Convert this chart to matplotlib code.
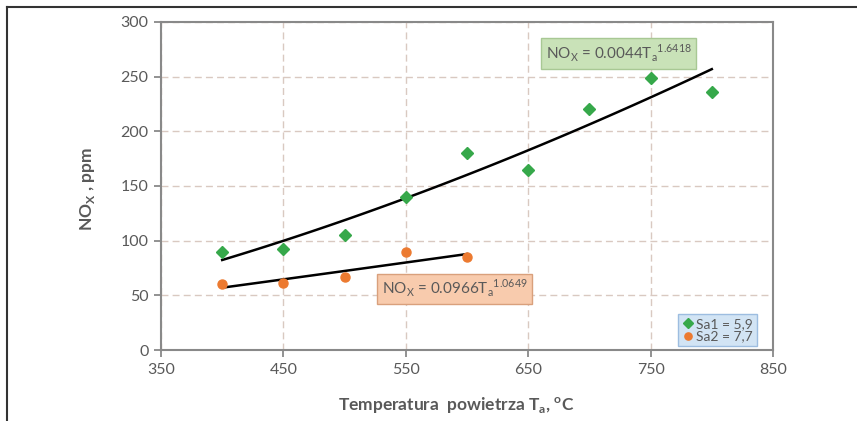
import numpy as np
import matplotlib
matplotlib.use("Agg")
import matplotlib.pyplot as plt
from matplotlib.lines import Line2D

plt.rcParams['font.family'] = ['Lato', 'DejaVu Sans']

# measured data
temp_sa1 = [400, 450, 500, 550, 600, 650, 700, 750, 800]
nox_sa1 = [90, 92, 105, 140, 180, 165, 220, 249, 236]
temp_sa2 = [400, 450, 500, 550, 600]
nox_sa2 = [60, 61, 67, 90, 85]

# power trend coefficients shown on the chart (y = a * T^b)
fit_sa1 = (0.0044, 1.6418)
fit_sa2 = (0.0966, 1.0649)

fig = plt.figure(figsize=(8.57, 4.21), dpi=100)
ax = fig.add_axes([161/857, 1 - 350/421, (773-161)/857, (350-22)/421])

grey = '#595959'
ax.grid(True, linestyle=(0, (5, 3)), color='#d9c9c1', linewidth=1.0)
ax.set_axisbelow(True)

t1 = np.linspace(min(temp_sa1), max(temp_sa1), 100)
t2 = np.linspace(min(temp_sa2), max(temp_sa2), 100)
ax.plot(t1, fit_sa1[0] * t1 ** fit_sa1[1], color='black', lw=1.8, zorder=2)
ax.plot(t2, fit_sa2[0] * t2 ** fit_sa2[1], color='black', lw=1.8, zorder=2)

ax.plot(temp_sa1, nox_sa1, 'D', color='#36a84a', ms=6, label='Sa1 = 5,9', zorder=3)
ax.plot(temp_sa2, nox_sa2, 'o', color='#ec7a30', ms=6.5, label='Sa2 = 7,7', zorder=3)

ax.set_xlim(350, 850)
ax.set_ylim(0, 300)
ax.set_xticks(np.arange(350, 851, 100))
ax.set_yticks(np.arange(0, 301, 50))
ax.tick_params(colors='#898989', labelcolor=grey, labelsize=11.5, length=5, width=1.3, pad=4)
for s in ax.spines.values():
    s.set_color('#898989')
    s.set_linewidth(1.5)

ax.set_xlabel('Temperatura  powietrza T$_\\mathregular{a}$, $^\\mathregular{o}$C',
              fontsize=12.5, fontweight='bold', color=grey)
ax.xaxis.set_label_coords((456-161)/612, -(396-350)/328)
ax.set_ylabel('NO$_\\mathregular{X}$ , ppm', fontsize=12.5, fontweight='bold', color=grey)
ax.yaxis.set_label_coords(-(161-97)/612, 0.49)

ax.text(724, 271, 'NO$_\\mathregular{X}$ = 0.0044T$_\\mathregular{a}$$^{\\mathregular{1.6418}}$',
        fontsize=11, color=grey, ha='center', va='center', zorder=4,
        bbox=dict(boxstyle='square,pad=0.3', facecolor='#c9e2b8', edgecolor='#a8c894', lw=1))
ax.text(590, 56, 'NO$_\\mathregular{X}$ = 0.0966T$_\\mathregular{a}$$^{\\mathregular{1.0649}}$',
        fontsize=11, color=grey, ha='center', va='center', zorder=4,
        bbox=dict(boxstyle='square,pad=0.3', facecolor='#f8cbad', edgecolor='#d9a07c', lw=1))

leg = ax.legend(loc='lower right', bbox_to_anchor=(0.98, 0.0), fontsize=10,
                handletextpad=0.1, handlelength=1.0, borderpad=0.25, labelspacing=0.05,
                markerscale=0.8, fancybox=False, framealpha=1, borderaxespad=0.3)
leg.get_frame().set_facecolor('#d2e4f4')
leg.get_frame().set_edgecolor('#9dbde0')
for txt in leg.get_texts():
    txt.set_color(grey)

# outer frame of the figure
fig.add_artist(Line2D([7/857, 1], [1 - 7/421, 1 - 7/421], color='#333333', lw=1.5))
fig.add_artist(Line2D([7/857, 7/857], [0, 1 - 7/421], color='#333333', lw=1.5))

fig.savefig('out.png', dpi=100)
